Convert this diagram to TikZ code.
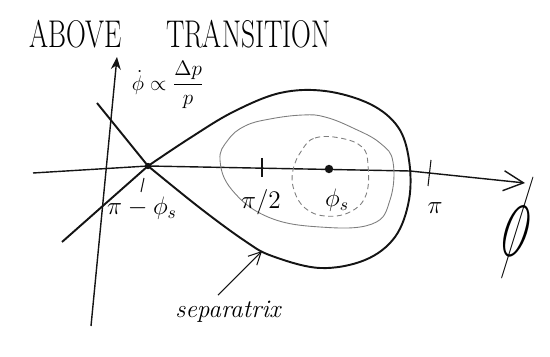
\documentclass[tikz,border=0pt]{standalone}
\usepackage{amsmath,amssymb}
\usepackage{xcolor}
\usepackage{tikz}
\usetikzlibrary{arrows.meta}
\definecolor{ink}{HTML}{141414}
\definecolor{pencil}{HTML}{7E7E7E}

\begin{document}
\begin{tikzpicture}[x=0.02cm, y=-0.02cm, font=\Large,
  axis/.style={ink, line width=0.8pt},
  sepx/.style={ink, line width=1.1pt, line join=round},
  orbit/.style={pencil, line width=0.5pt},
  tick/.style={ink, line width=0.6pt},
  lbl/.style={inner sep=1pt},
  arr/.style={-{Straight Barb[length=2.5mm,width=2.5mm]}, ink, line width=0.6pt}]
\useasboundingbox (0,0) rectangle (550,357);
\coordinate (hl) at (33,173);
\coordinate (hr) at (525,183);
\coordinate (vb) at (91,326);
\coordinate (vt) at (117,57);
\coordinate (xpt) at (148,166);
\coordinate (fp) at (329,169);
\coordinate (sept) at (262,251);
% axes
\draw[axis, -{Straight Barb[length=4mm,width=4mm]}] (hl) .. controls (90,169) .. (xpt) -- (410,171) -- (hr);
\draw[axis, -{Stealth[length=2.5mm,width=2mm]}] (vb) -- (vt);
% separatrix
\draw[sepx] (97,103) -- plot[smooth, tension=0.6] coordinates {(148,166) (200,208) (245,241)
  (272,256) (320,268) (365,260) (395,237) (409,200) (409,160) (398,127) (370,104) (325,91)
  (280,93) (233,112) (190,138) (148,166)} -- (62,242);
% orbits inside
\draw[orbit] plot[smooth cycle, tension=0.7] coordinates {(220,160) (228,140) (245,126) (270,119)
  (303,115) (325,117) (353,128) (380,143) (393,162) (390,200) (372,224) (320,227) (268,217) (232,190)};
\draw[orbit, densely dashed] plot[smooth cycle, tension=0.7] coordinates {(302,150) (315,138) (340,138)
  (362,147) (368,165) (366,195) (350,212) (325,216) (305,208) (294,190) (293,170)};
% ticks and points
\draw[tick] (144,178) -- (141,192);
\draw[tick] (262,158) -- (262,177);
\draw[tick] (431,160) -- (428,186);
\fill[ink] (xpt) circle[radius=1.8pt];
\fill[ink] (fp) circle[radius=2.4pt];
% labels
\node[lbl, font=\fontsize{22}{26}\selectfont, xscale=0.71] (ttl) at (180,34) {ABOVE\hspace{1.6em}TRANSITION};
\node[inner sep=0pt, font=\large] (phidot) at (168,85) {$\dot{\phi}\propto\dfrac{\Delta p}{p}$};
\node[lbl] (lxp) at (142,208) {$\pi-\phi_s$};
\node[lbl] (lhalf) at (261,202) {$\pi/2$};
\node[lbl] (lfp) at (337,200) {$\phi_s$};
\node[lbl] (lpi) at (435,208) {$\pi$};
\node[lbl, font=\Huge, rotate=-12, yscale=2.7] (lphi) at (517,227) {$\phi$};
\node[lbl, font=\Large\itshape] (lsep) at (228,312) {separatrix};
\draw[arr] ([shift={(-10,-4)}]lsep.north) -- (sept);
\end{tikzpicture}
\end{document}
